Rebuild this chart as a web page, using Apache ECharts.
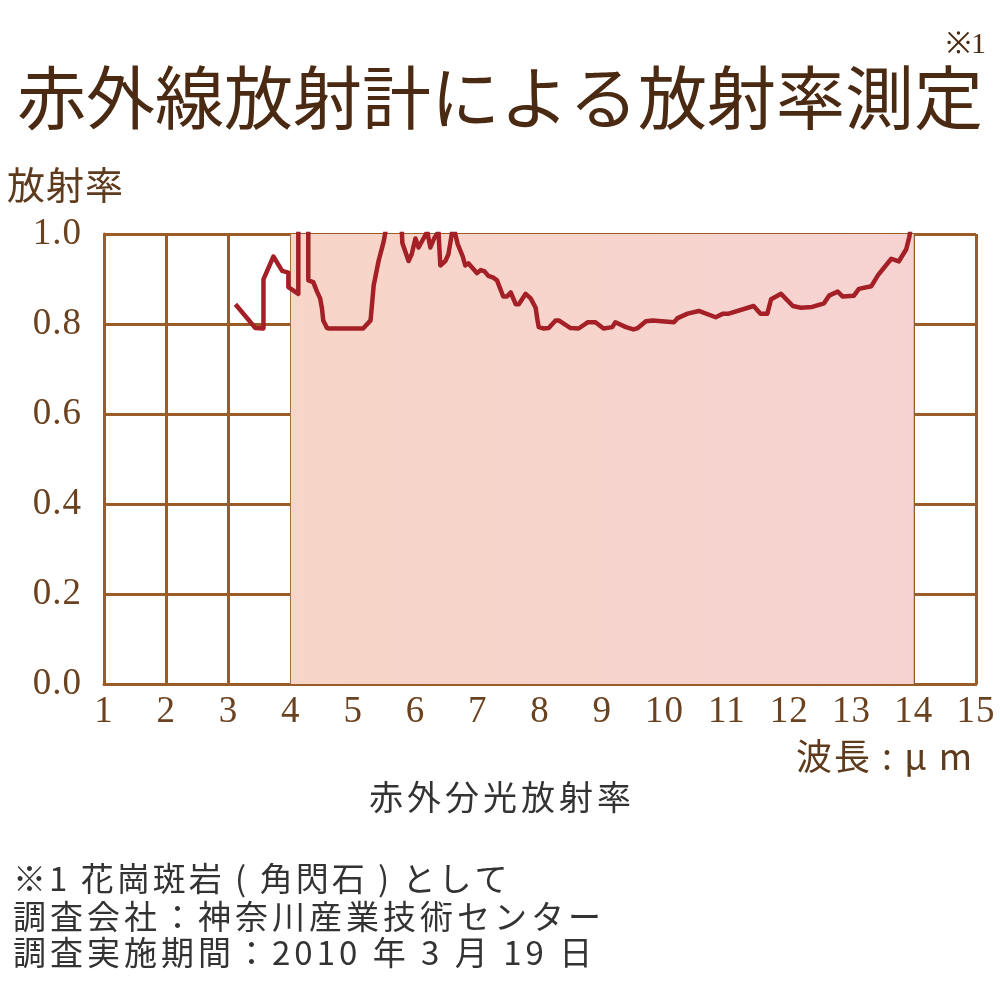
<!DOCTYPE html>
<html>
<head>
<meta charset="utf-8">
<script src="https://cdn.jsdelivr.net/npm/echarts@6/dist/echarts.min.js"></script>
<style>html,body{margin:0;padding:0;background:#fff;}#c{width:1000px;height:1000px;}</style>
</head>
<body>
<div id="c"></div>
<script>
// wavelength (µm)
var wavelength = [3.11, 3.43, 3.56, 3.56, 3.72, 3.86, 3.96, 3.96, 4.12, 4.12, 4.2, 4.28, 4.28, 4.36, 4.42, 4.47, 4.50, 4.52, 4.58, 4.62, 5.16, 5.28, 5.33, 5.41, 5.49, 5.55, 5.7, 5.78, 5.79, 5.89, 5.94, 6.0, 6.05, 6.13, 6.19, 6.24, 6.30, 6.37, 6.40, 6.48, 6.53, 6.59, 6.63, 6.68, 6.76, 6.80, 6.85, 6.92, 6.99, 7.05, 7.11, 7.17, 7.25, 7.31, 7.41, 7.47, 7.53, 7.61, 7.66, 7.77, 7.85, 7.93, 7.96, 7.98, 8.06, 8.14, 8.25, 8.30, 8.49, 8.62, 8.77, 8.89, 9.02, 9.16, 9.21, 9.38, 9.50, 9.57, 9.70, 9.81, 10.15, 10.21, 10.37, 10.55, 10.82, 10.94, 11.03, 11.43, 11.54, 11.65, 11.71, 11.87, 12.06, 12.19, 12.37, 12.56, 12.64, 12.78, 12.86, 13.04, 13.12, 13.32, 13.43, 13.64, 13.76, 13.88, 13.93, 13.96];
// emissivity
var emissivity = [0.844, 0.791, 0.79, 0.899, 0.95, 0.918, 0.914, 0.882, 0.867, 1.05, 1.12, 1.05, 0.897, 0.893, 0.872, 0.857, 0.834, 0.808, 0.791, 0.79, 0.79, 0.808, 0.886, 0.941, 0.983, 1.03, 1.06, 1.01, 0.98, 0.94, 0.955, 0.99, 0.97, 0.99, 1.005, 0.97, 0.99, 1.005, 0.93, 0.94, 0.955, 1.005, 1.005, 0.977, 0.95, 0.93, 0.935, 0.924, 0.913, 0.92, 0.917, 0.907, 0.903, 0.897, 0.861, 0.861, 0.87, 0.844, 0.844, 0.867, 0.857, 0.836, 0.808, 0.793, 0.79, 0.791, 0.808, 0.808, 0.791, 0.79, 0.804, 0.804, 0.79, 0.793, 0.804, 0.793, 0.788, 0.791, 0.806, 0.808, 0.804, 0.813, 0.823, 0.829, 0.815, 0.823, 0.823, 0.84, 0.823, 0.823, 0.855, 0.867, 0.84, 0.836, 0.838, 0.846, 0.863, 0.872, 0.861, 0.863, 0.878, 0.884, 0.909, 0.945, 0.939, 0.966, 0.994, 1.02];
var xTicks = [1,2,3,4,5,6,7,8,9,10,11,12,13,14,15];
var yTicks = ['0.0','0.2','0.4','0.6','0.8','1.0'];
var bandRange = [4, 14];

var titleText = '赤外線放射計による放射率測定';
var noteMark = '※1';
var yName = '放射率';
var xName = '波長 : μ m';
var subTitle = '赤外分光放射率';
var notes = ['※1 花崗斑岩 ( 角閃石 ) として', '調査会社：神奈川産業技術センター', '調査実施期間：2010 年 3 月 19 日'];

// letter spacing support for tagged font families (canvas letterSpacing)
(function(){
  var P = CanvasRenderingContext2D.prototype, orig = P.fillText;
  P.fillText = function(t, x, y, w){
    var m = /lsp(\d+)/.exec(this.font || '');
    if (m && 'letterSpacing' in this) {
      var old = this.letterSpacing;
      this.letterSpacing = m[1] + 'px';
      var r = w === undefined ? orig.call(this, t, x, y) : orig.call(this, t, x, y, w);
      this.letterSpacing = old;
      return r;
    }
    return w === undefined ? orig.call(this, t, x, y) : orig.call(this, t, x, y, w);
  };
})();

var pts = wavelength.map(function(x, i){ return [x, emissivity[i]]; });
var grid = '#9a5d2a';
var brown = '#5e3b1c';
var serif = '"Liberation Serif", "DejaVu Serif", serif';
var cjk = '"Noto Sans CJK JP", sans-serif';
function cjkSp(n){ return '"Noto Sans CJK JP", lsp' + n + ', sans-serif'; }

var chart = echarts.init(document.getElementById('c'));
chart.setOption({
  animation: false,
  backgroundColor: '#fff',
  grid: {left: 104, right: 24, top: 234, bottom: 316},
  xAxis: {
    type: 'value', min: 1, max: 15, interval: 1,
    axisLine: {show: true, lineStyle: {color: grid, width: 3}},
    axisTick: {show: false},
    splitLine: {show: true, lineStyle: {color: grid, width: 3}},
    axisLabel: {color: '#6b4220', fontFamily: serif, fontSize: 37, margin: 10,
      formatter: function(v){ return String(xTicks[Math.round(v) - 1]); }}
  },
  yAxis: {
    type: 'value', min: 0, max: 1, interval: 0.2,
    axisLine: {show: true, lineStyle: {color: grid, width: 3}},
    axisTick: {show: false},
    splitLine: {show: true, lineStyle: {color: grid, width: 3}},
    axisLabel: {color: '#6b4220', fontFamily: serif, fontSize: 37, margin: 22,
      formatter: function(v){ return yTicks[Math.round(v / 0.2)]; }}
  },
  series: [{
    type: 'line', data: pts, showSymbol: false, clip: true, z: 5,
    lineStyle: {color: '#a41f26', width: 4.5, join: 'round'},
    markArea: {
      silent: true,
      itemStyle: {color: {type: 'linear', x: 0, y: 0, x2: 1, y2: 0,
        colorStops: [{offset: 0, color: '#f7d5c7'}, {offset: 1, color: '#f6d3d2'}]}},
      data: [[{xAxis: bandRange[0]}, {xAxis: bandRange[1]}]]
    }
  }],
  graphic: [
    {type: 'text', left: 'center', top: 63, style: {text: titleText, fontFamily: cjk, fontSize: 69, fill: '#4a2a12'}},
    {type: 'text', right: 14, top: 30, style: {text: noteMark, fontFamily: serif, fontSize: 30, fill: '#4a2a12'}},
    {type: 'text', left: 7, top: 166, style: {text: yName, fontFamily: cjkSp(1), fontSize: 38, fill: brown}},
    {type: 'text', left: 796, top: 738, style: {text: xName, fontFamily: cjkSp(2), fontSize: 36, fill: brown}},
    {type: 'text', left: 369, top: 780, style: {text: subTitle, fontFamily: cjkSp(4), fontSize: 34, fill: '#333'}},
    {type: 'text', left: 13, top: 862, style: {text: notes[0], fontFamily: cjkSp(3), fontSize: 33, fill: '#333'}},
    {type: 'text', left: 13, top: 900, style: {text: notes[1], fontFamily: cjkSp(4), fontSize: 33, fill: '#333'}},
    {type: 'text', left: 13, top: 936, style: {text: notes[2], fontFamily: cjkSp(4), fontSize: 33, fill: '#333'}}
  ]
});
</script>
</body>
</html>
